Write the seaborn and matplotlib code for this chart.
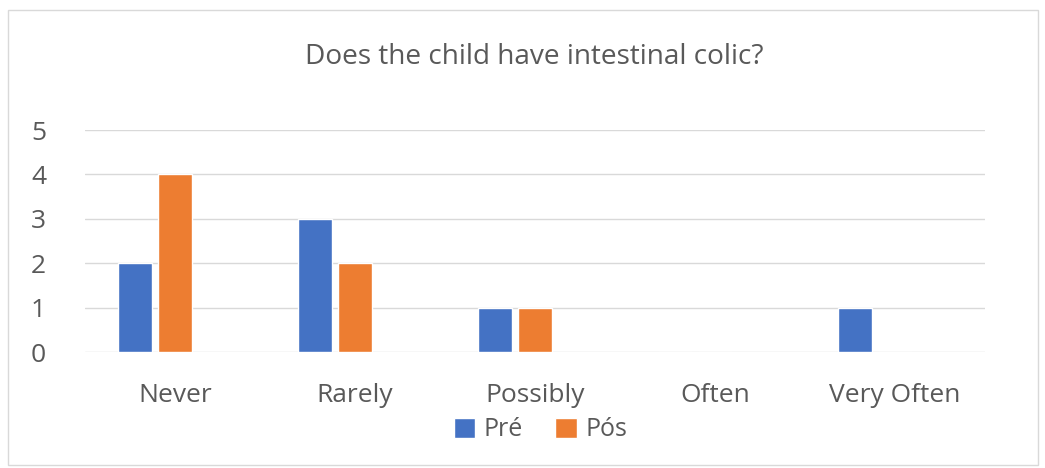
import matplotlib
matplotlib.use("Agg")
import matplotlib.pyplot as plt
import seaborn as sns
import pandas as pd
import numpy as np
from matplotlib.patches import Rectangle

categories = ["Never", "Rarely", "Possibly", "Often", "Very Often"]
pre_values = [2, 3, 1, 0, 1]
pos_values = [4, 2, 1, 0, 0]
series_names = ["Pré", "Pós"]
colors = ["#4472C4", "#ED7D31"]
yticks = [0, 1, 2, 3, 4, 5]

# Excel chart reserves a third (empty) slot per category
empty_name = "_empty"
df = pd.DataFrame({
    "cat": categories * 3,
    "val": pre_values + pos_values + [np.nan] * len(categories),
    "series": [series_names[0]] * len(categories)
    + [series_names[1]] * len(categories)
    + [empty_name] * len(categories),
})

sns.set_theme(style="white")
plt.rcParams["font.family"] = ["Open Sans", "DejaVu Sans"]
txt = "#595959"

fig = plt.figure(figsize=(10.45, 4.68), dpi=100)
ax = fig.add_axes([85 / 1045, 1 - 352 / 468, 900 / 1045, 222 / 468])

sns.barplot(data=df, x="cat", y="val", hue="series", order=categories,
            hue_order=series_names + [empty_name],
            palette=colors + ["#FFFFFF"], width=0.667, gap=0.17,
            saturation=1, ax=ax, legend=True, err_kws={"linewidth": 0})

ax.set_ylim(0, 5)
ax.set_xlim(-0.5, len(categories) - 0.5)
ax.set_yticks(yticks)
ax.set_yticklabels([str(t) for t in yticks], fontsize=19, color=txt)
ax.set_xticklabels(categories, fontsize=19, color=txt)
ax.tick_params(axis="y", length=0, pad=28)
ax.tick_params(axis="x", length=0, pad=22)
ax.set_xlabel("")
ax.set_ylabel("")
ax.grid(axis="y", color="#D9D9D9", linewidth=1)
ax.set_axisbelow(True)
for s in ax.spines.values():
    s.set_visible(False)

handles, labels = ax.get_legend_handles_labels()
keep = [i for i, l in enumerate(labels) if l in series_names]
ax.legend([handles[i] for i in keep], [labels[i] for i in keep],
          loc="center", bbox_to_anchor=(0.506, -0.35), ncol=2, frameon=False,
          fontsize=18, labelcolor=txt, handlelength=0.85, handleheight=0.85,
          handletextpad=0.35, columnspacing=1.3, borderpad=0)

fig.text(534 / 1045, 1 - 57 / 468, "Does the child have intestinal colic?", ha="center",
         va="center", fontsize=20.2, color=txt)

fig.patches.append(Rectangle((8 / 1045, 1 - 465 / 468), 1030 / 1045, 455 / 468,
                             transform=fig.transFigure, fill=False,
                             edgecolor="#D9D9D9", linewidth=1))

fig.savefig("out.png", dpi=100)
